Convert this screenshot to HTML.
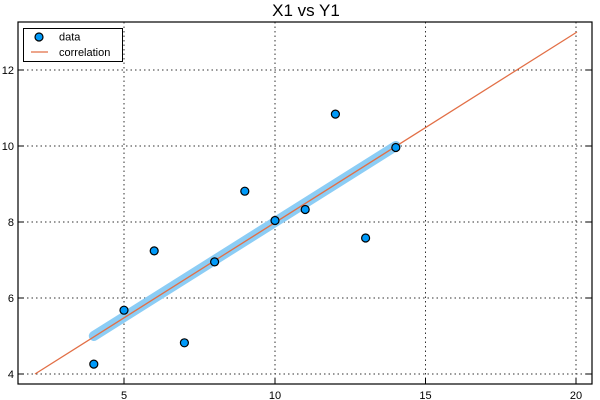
<!DOCTYPE html>
<html><head><meta charset="utf-8"><style>body{margin:0;background:#fff}svg{display:block}</style></head>
<body>
<svg width="600" height="400" xmlns="http://www.w3.org/2000/svg" font-family="Liberation Sans, DejaVu Sans, sans-serif">
<text x="306" y="16" font-size="17" text-anchor="middle">X1 vs Y1</text>
<g stroke="#000" stroke-width="1" stroke-dasharray="1.5,3" fill="none" opacity="0.8">
<line x1="124" y1="22" x2="124" y2="384"/><line x1="275" y1="22" x2="275" y2="384"/>
<line x1="425.5" y1="22" x2="425.5" y2="384"/><line x1="576" y1="22" x2="576" y2="384"/>
<line x1="18" y1="374" x2="592" y2="374"/><line x1="18" y1="298" x2="592" y2="298"/>
<line x1="18" y1="222" x2="592" y2="222"/><line x1="18" y1="146" x2="592" y2="146"/>
<line x1="18" y1="70" x2="592" y2="70"/>
</g>
<g stroke="#000" stroke-width="1">
<line x1="124" y1="384" x2="124" y2="378"/><line x1="275" y1="384" x2="275" y2="378"/>
<line x1="425.5" y1="384" x2="425.5" y2="378"/><line x1="576" y1="384" x2="576" y2="378"/>
<line x1="18" y1="374" x2="24" y2="374"/><line x1="18" y1="298" x2="24" y2="298"/>
<line x1="18" y1="222" x2="24" y2="222"/><line x1="18" y1="146" x2="24" y2="146"/>
<line x1="18" y1="70" x2="24" y2="70"/>
<line x1="592" y1="374" x2="586" y2="374"/><line x1="592" y1="298" x2="586" y2="298"/>
<line x1="592" y1="222" x2="586" y2="222"/><line x1="592" y1="146" x2="586" y2="146"/>
<line x1="592" y1="70" x2="586" y2="70"/>
</g>
<g font-size="11" fill="#000">
<text x="124" y="399" text-anchor="middle">5</text><text x="275" y="399" text-anchor="middle">10</text>
<text x="425.5" y="399" text-anchor="middle">15</text><text x="576" y="399" text-anchor="middle">20</text>
<text x="14" y="378" text-anchor="end">4</text><text x="14" y="302" text-anchor="end">6</text>
<text x="14" y="226" text-anchor="end">8</text><text x="14" y="150" text-anchor="end">10</text>
<text x="14" y="74" text-anchor="end">12</text>
</g>
<line x1="93.8" y1="336" x2="395.8" y2="146" stroke="#8ccdf5" stroke-width="10" stroke-linecap="round"/>
<line x1="35" y1="374" x2="577" y2="32" stroke="#e26f46" stroke-width="1.3"/>
<g fill="#009af9" stroke="#000" stroke-width="1.2">
<circle cx="275" cy="220.5" r="4"/><circle cx="214.6" cy="261.9" r="4"/><circle cx="365.6" cy="238" r="4"/>
<circle cx="244.8" cy="191.2" r="4"/><circle cx="305.2" cy="209.5" r="4"/><circle cx="395.8" cy="147.5" r="4"/>
<circle cx="154.2" cy="250.9" r="4"/><circle cx="93.8" cy="364.1" r="4"/><circle cx="335.4" cy="114.1" r="4"/>
<circle cx="184.4" cy="342.8" r="4"/><circle cx="124" cy="310.2" r="4"/>
</g>
<rect x="18" y="22" width="574" height="362" fill="none" stroke="#000" stroke-width="1.2"/>
<rect x="23.5" y="28.5" width="99" height="33" fill="#fff" stroke="#000" stroke-width="1"/>
<circle cx="39" cy="37" r="4" fill="#009af9" stroke="#000" stroke-width="1.2"/>
<text x="59" y="40.5" font-size="11">data</text>
<line x1="31" y1="52" x2="48" y2="52" stroke="#e26f46" stroke-width="1.3"/>
<text x="59" y="56" font-size="11">correlation</text>
</svg>
</body></html>
